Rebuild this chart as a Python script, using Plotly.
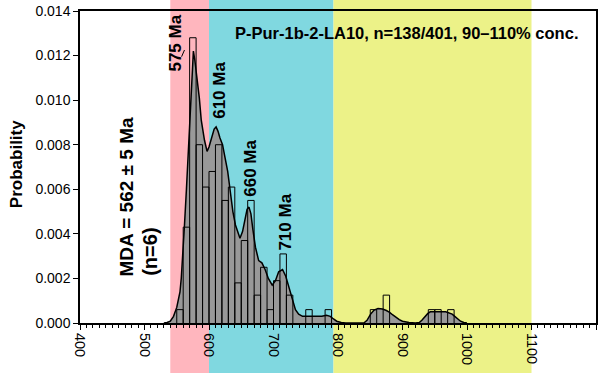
import plotly.graph_objects as go

# ---- data ----
kde_age = [530, 535, 540, 545, 550, 555, 557, 560, 562, 565, 567.5, 570, 572.7, 575.8, 578, 580,
           583, 585, 588, 590, 593, 597, 600, 604, 608, 611, 614, 617, 621, 625, 629, 633, 637,
           641, 645, 648, 652, 656, 659, 662, 665, 668, 672, 677, 682, 687, 692, 698, 703, 708,
           714, 719, 724, 729, 734, 739, 745, 755, 765, 775, 782, 788, 793, 798, 805, 812, 840,
           845, 851, 856, 862, 869, 875, 880, 885, 890, 895, 900, 910, 920, 926, 930, 934, 939,
           943, 950, 960, 967, 972, 977, 981, 985, 990, 995, 1000]
kde_prob = [0.0, 0.00002, 0.00008, 0.0003, 0.0007, 0.0014, 0.0020, 0.0032, 0.0044, 0.0060, 0.0074,
            0.0090, 0.0104, 0.0122, 0.0118, 0.0113, 0.0107, 0.0101, 0.0091, 0.0087, 0.0082, 0.0077,
            0.0079, 0.0083, 0.0087, 0.0088, 0.0086, 0.0083, 0.0080, 0.0074, 0.0068, 0.0059, 0.0050,
            0.0044, 0.0040, 0.0038, 0.0041, 0.0046, 0.0051, 0.0052, 0.0049, 0.0042, 0.0034, 0.0028,
            0.0027, 0.0024, 0.0020, 0.0017, 0.0019, 0.0023, 0.0024, 0.0021, 0.0016, 0.0010, 0.0006,
            0.0004, 0.0003, 0.0003, 0.0003, 0.0003, 0.00035, 0.0003, 0.00018, 0.00008, 0.00002, 0.0,
            0.0, 0.00012, 0.00042, 0.00058, 0.00065, 0.00063, 0.00056, 0.00048, 0.00036, 0.00025,
            0.00015, 0.00008, 0.00002, 0.0, 0.00002, 0.00012, 0.00027, 0.00042, 0.0005, 0.00051,
            0.00051, 0.0005, 0.00046, 0.0004, 0.0003, 0.0002, 0.00008, 0.00002, 0.0]

bin_left = [550, 560, 570, 580, 590, 600, 610, 620, 630, 640, 650, 660, 670, 680, 690, 700, 710,
            720, 750, 780, 850, 870, 940, 950, 970]
bin_prob = [0.0006, 0.0043, 0.0128, 0.0080, 0.0061, 0.0068, 0.0080, 0.0055, 0.0061, 0.0018, 0.0037,
            0.0055, 0.00125, 0.0025, 0.0006, 0.0019, 0.0031, 0.00125, 0.0006, 0.0006, 0.0006,
            0.00125, 0.0006, 0.0006, 0.0006]
bin_width = 10

bands = [(540, 600, "#FFB6BE"), (600, 793, "#80D8E0"), (793, 1100, "#ECF288")]

peak_labels = ["575 Ma", "610 Ma", "660 Ma", "710 Ma"]
peak_label_x = [548, 615, 663, 718]
peak_label_y = [0.01256, 0.01045, 0.00695, 0.00451]

title_text = "P-Pur-1b-2-LA10, n=138/401, 90–110% conc."
mda_text = "MDA = 562 ± 5 Ma"
mda_n_text = "(n=6)"

FONT = "Liberation Sans, Arial, sans-serif"

fig = go.Figure()

fig.add_trace(go.Scatter(
    x=kde_age, y=kde_prob, mode="lines", fill="tozeroy",
    fillcolor="#999999", line=dict(color="black", width=1.5), hoverinfo="skip",
    showlegend=False))

# histogram outlines (drawn as a line trace so they sit above the filled curve)
hx, hy = [], []
for left, h in zip(bin_left, bin_prob):
    hx += [left, left, left + bin_width, left + bin_width, None]
    hy += [0, h, h, 0, None]
fig.add_trace(go.Scatter(x=hx, y=hy, mode="lines", line=dict(color="black", width=1),
                         hoverinfo="skip", showlegend=False))

for x0, x1, c in bands:
    fig.add_shape(type="rect", xref="x", yref="paper", x0=x0, x1=x1, y0=-0.3, y1=1.1,
                  fillcolor=c, line=dict(width=0), layer="below")

# leader line for 575 Ma
fig.add_shape(type="line", xref="x", yref="y", x0=557.5, y0=0.01195, x1=562, y1=0.01225,
              line=dict(color="black", width=1))

for t, x, y in zip(peak_labels, peak_label_x, peak_label_y):
    fig.add_annotation(x=x, y=y, xref="x", yref="y", text="<b>%s</b>" % t, showarrow=False,
                       textangle=-90, xanchor="center", yanchor="middle",
                       font=dict(family=FONT, size=17, color="black"))

fig.add_annotation(x=906, y=0.0130, xref="x", yref="y", text="<b>%s</b>" % title_text,
                   showarrow=False, xanchor="center", yanchor="middle",
                   font=dict(family=FONT, size=16.5, color="black"))

fig.add_annotation(x=472.5, y=0.00566, xref="x", yref="y", text="<b>%s</b>" % mda_text,
                   showarrow=False, textangle=-90, xanchor="center", yanchor="middle",
                   font=dict(family=FONT, size=19, color="black"))
fig.add_annotation(x=508, y=0.00318, xref="x", yref="y", text="<b>%s</b>" % mda_n_text,
                   showarrow=False, textangle=-90, xanchor="center", yanchor="middle",
                   font=dict(family=FONT, size=20, color="black"))

fig.add_annotation(x=-0.1216, y=0.51, xref="paper", yref="paper", text="<b>Probability</b>",
                   showarrow=False, textangle=-90, xanchor="center", yanchor="middle",
                   font=dict(family=FONT, size=17, color="black"))

fig.update_layout(
    width=600, height=373,
    margin=dict(l=80, r=2, t=11, b=50),
    paper_bgcolor="white", plot_bgcolor="white",
    font=dict(family=FONT, size=14, color="black"),
    xaxis=dict(range=[400, 1200], dtick=100, tick0=400, tickangle=90, ticks="outside",
               ticklen=5, tickwidth=1, tickcolor="black", showline=True, linecolor="black",
               linewidth=2, mirror=True, showgrid=False, zeroline=False,
               tickfont=dict(family=FONT, size=14.5, color="black"),
               minor=dict(dtick=10, ticks="outside", ticklen=3, tickcolor="black", tickwidth=1,
                          showgrid=False)),
    yaxis=dict(range=[0, 0.014], dtick=0.002, tickformat=".3f", ticks="outside", ticklen=5,
               tickwidth=1, tickcolor="black", showline=True, linecolor="black", linewidth=1.5,
               mirror=True, showgrid=False, zeroline=False,
               tickfont=dict(family=FONT, size=14, color="black")),
)

fig.write_html("out.html")
